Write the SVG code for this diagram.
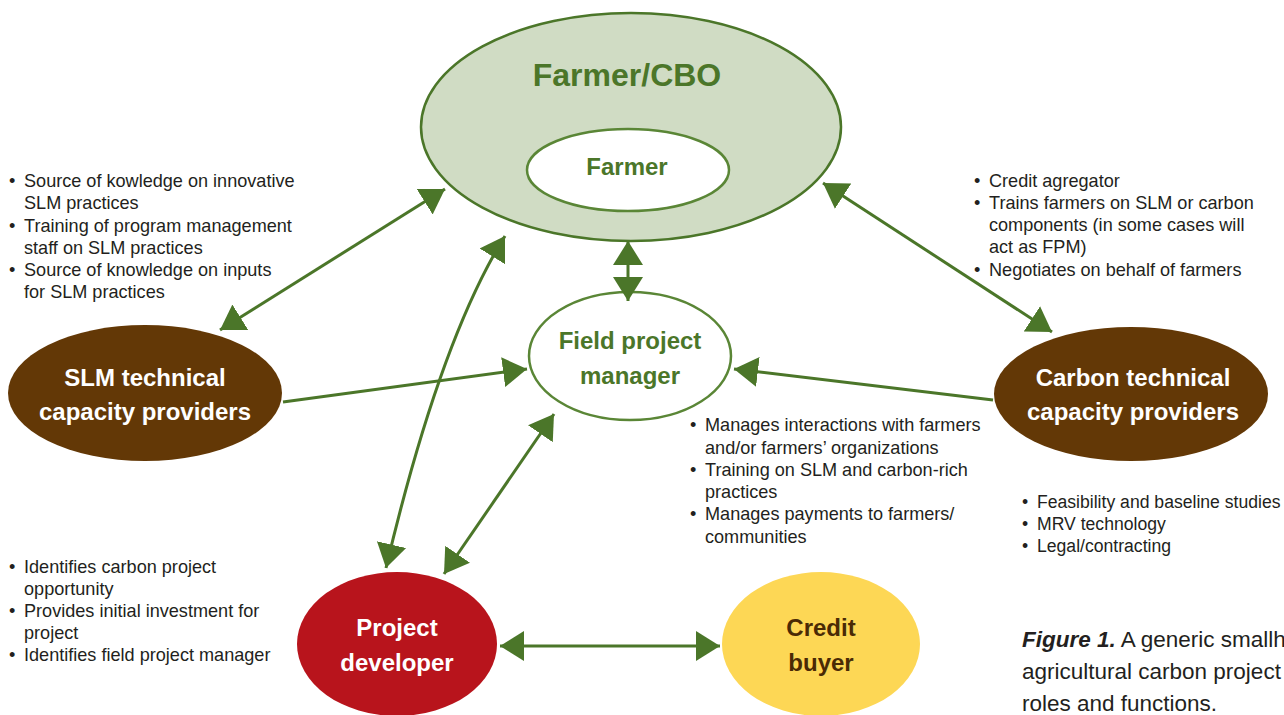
<svg xmlns="http://www.w3.org/2000/svg" width="1284" height="715" viewBox="0 0 1284 715">
<style>
.body{font-family:"Liberation Sans",Arial,sans-serif;font-size:18.1px;fill:#231f20}
.cap{font-family:"Liberation Sans",Arial,sans-serif;font-size:22.5px;fill:#231f20}
.lbl{font-family:"Liberation Sans",Arial,sans-serif;font-weight:bold;font-size:24px;text-anchor:middle}
.g{fill:#4b7629}
.w{fill:#ffffff}
.conn{stroke:#4b7629;stroke-width:3;fill:none}
</style>
<defs>
<marker id="ah" markerUnits="userSpaceOnUse" markerWidth="26" markerHeight="32" refX="24" refY="16" orient="auto-start-reverse" viewBox="0 0 26 32">
<path d="M0,1 L24,16 L0,31 z" fill="#4b7629"/>
</marker>
</defs>
<rect width="1284" height="715" fill="#ffffff"/>

<g id="farmer-cbo">
<ellipse cx="631" cy="127" rx="210" ry="114" fill="#d0dcc4" stroke="#4b7629" stroke-width="2.5"/>
<text x="627" y="86" class="lbl g" style="font-size:32px">Farmer/CBO</text>
</g>
<g id="farmer">
<ellipse cx="628" cy="170" rx="101" ry="41" fill="#ffffff" stroke="#5a8636" stroke-width="2.5"/>
<text x="627" y="175" class="lbl g">Farmer</text>
</g>
<g id="fpm">
<ellipse cx="630" cy="356" rx="101" ry="64" fill="#ffffff" stroke="#5a8636" stroke-width="2.5"/>
<text x="630" y="349" class="lbl g">Field project</text>
<text x="630" y="384" class="lbl g">manager</text>
</g>
<g id="slm">
<ellipse cx="145" cy="393" rx="137" ry="68" fill="#633806"/>
<text x="145" y="386" class="lbl w">SLM technical</text>
<text x="145" y="420" class="lbl w">capacity providers</text>
</g>
<g id="carbon">
<ellipse cx="1131" cy="394" rx="137" ry="67" fill="#633806"/>
<text x="1133" y="386" class="lbl w">Carbon technical</text>
<text x="1133" y="420" class="lbl w">capacity providers</text>
</g>
<g id="developer">
<ellipse cx="397" cy="644" rx="100" ry="72" fill="#b8141c"/>
<text x="397" y="636" class="lbl w">Project</text>
<text x="397" y="671" class="lbl w">developer</text>
</g>
<g id="buyer">
<ellipse cx="821" cy="644" rx="99" ry="72" fill="#fdd755"/>
<text x="821" y="636" class="lbl" fill="#4a2a05">Credit</text>
<text x="821" y="671" class="lbl" fill="#4a2a05">buyer</text>
</g>

<g id="connectors">
<line class="conn" x1="220" y1="330" x2="445" y2="189" marker-start="url(#ah)" marker-end="url(#ah)"/>
<line class="conn" x1="283" y1="402" x2="527" y2="369" marker-end="url(#ah)"/>
<line class="conn" x1="993" y1="400" x2="734" y2="369" marker-end="url(#ah)"/>
<line class="conn" x1="1052" y1="332" x2="823" y2="183" marker-start="url(#ah)" marker-end="url(#ah)"/>
<line class="conn" x1="628" y1="241" x2="628" y2="301" marker-start="url(#ah)" marker-end="url(#ah)"/>
<path class="conn" d="M505,236 Q440,340 386,568" marker-start="url(#ah)" marker-end="url(#ah)"/>
<line class="conn" x1="444" y1="574" x2="554" y2="414" marker-start="url(#ah)" marker-end="url(#ah)"/>
<line class="conn" x1="500" y1="646" x2="720" y2="646" marker-start="url(#ah)" marker-end="url(#ah)"/>
</g>

<g id="notes-slm" class="body">
<text x="9" y="187">•</text><text x="24" y="187">Source of kowledge on innovative</text>
<text x="24" y="209">SLM practices</text>
<text x="9" y="232">•</text><text x="24" y="232">Training of program management</text>
<text x="24" y="254">staff on SLM practices</text>
<text x="9" y="276">•</text><text x="24" y="276">Source of knowledge on inputs</text>
<text x="24" y="298">for SLM practices</text>
</g>
<g id="notes-farmer-cbo" class="body">
<text x="974" y="187">•</text><text x="989" y="187">Credit agregator</text>
<text x="974" y="209">•</text><text x="989" y="209">Trains farmers on SLM or carbon</text>
<text x="989" y="231">components (in some cases will</text>
<text x="989" y="253">act as FPM)</text>
<text x="974" y="276">•</text><text x="989" y="276">Negotiates on behalf of farmers</text>
</g>
<g id="notes-fpm" class="body">
<text x="690" y="431">•</text><text x="705" y="431">Manages interactions with farmers</text>
<text x="705" y="454">and/or farmers’ organizations</text>
<text x="690" y="476">•</text><text x="705" y="476">Training on SLM and carbon-rich</text>
<text x="705" y="498">practices</text>
<text x="690" y="520">•</text><text x="705" y="520">Manages payments to farmers/</text>
<text x="705" y="543">communities</text>
</g>
<g id="notes-carbon" class="body" style="font-size:17.6px">
<text x="1022" y="508">•</text><text x="1037" y="508">Feasibility and baseline studies</text>
<text x="1022" y="530">•</text><text x="1037" y="530">MRV technology</text>
<text x="1022" y="552">•</text><text x="1037" y="552">Legal/contracting</text>
</g>
<g id="notes-developer" class="body">
<text x="9" y="573">•</text><text x="24" y="573">Identifies carbon project</text>
<text x="24" y="595">opportunity</text>
<text x="9" y="617">•</text><text x="24" y="617">Provides initial investment for</text>
<text x="24" y="639">project</text>
<text x="9" y="661">•</text><text x="24" y="661">Identifies field project manager</text>
</g>
<g id="caption" class="cap">
<text x="1022" y="647"><tspan font-weight="bold" font-style="italic">Figure 1.</tspan> A generic smallholder</text>
<text x="1022" y="679">agricultural carbon project</text>
<text x="1022" y="711">roles and functions.</text>
</g>
</svg>
